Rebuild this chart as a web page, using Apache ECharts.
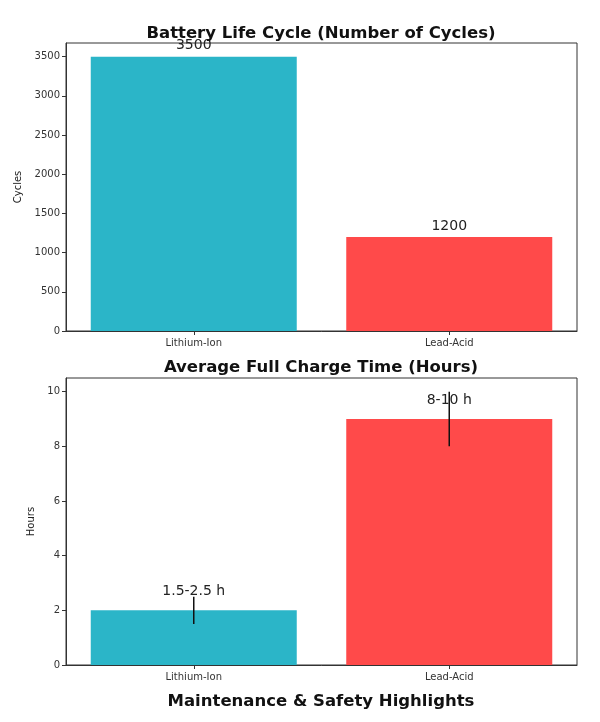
<!DOCTYPE html>
<html>
<head>
<meta charset="utf-8">
<script src="https://cdn.jsdelivr.net/npm/echarts@6/dist/echarts.min.js"></script>
<style>
  html, body { margin: 0; padding: 0; background: #fff; }
  #main { width: 600px; height: 722px; }
</style>
</head>
<body>
<div id="main"></div>
<script>
const batteries = ['Lithium-Ion', 'Lead-Acid']
const cycles = [3500, 1200]
const chargeHours = [2, 9]
const chargeLow = [1.5, 8]
const chargeHigh = [2.5, 10]
const chargeLabels = ['1.5-2.5 h', '8-10 h']
const cycleTicks = [0, 500, 1000, 1500, 2000, 2500, 3000, 3500]
const hourTicks = [0, 2, 4, 6, 8, 10]

const colors = ['#2bb5c8', '#ff4a4a']
const font = 'DejaVu Sans'

const chart = echarts.init(document.getElementById('main'))

// value axis shared styling, ticks only where the reference has them
const valueAxis = (gridIndex, name, max, ticks, gap) => ({
    type: 'value',
    gridIndex,
    min: 0,
    max,
    name,
    nameLocation: 'middle',
    nameGap: gap,
    nameTextStyle: { fontFamily: font, fontSize: 10, color: '#222' },
    splitLine: { show: false },
    axisLine: { show: true, lineStyle: { color: '#333' } },
    axisTick: { show: true, length: 4, customValues: ticks, lineStyle: { color: '#333' } },
    axisLabel: {
        fontFamily: font, fontSize: 10, color: '#333', margin: 6,
        customValues: ticks,
        formatter: v => String(v)
    }
})

const catAxis = gridIndex => ({
    type: 'category',
    gridIndex,
    data: batteries,
    axisLine: { show: true, lineStyle: { color: '#333' } },
    axisTick: { show: true, alignWithLabel: true, length: 4, lineStyle: { color: '#333' } },
    axisLabel: { fontFamily: font, fontSize: 10, color: '#333', margin: 7 }
})

const errorBars = {
    type: 'custom',
    xAxisIndex: 1,
    yAxisIndex: 1,
    z: 10,
    data: batteries.map((b, i) => [i, chargeLow[i], chargeHigh[i]]),
    renderItem: (params, api) => {
        const lo = api.coord([api.value(0), api.value(1)])
        const hi = api.coord([api.value(0), api.value(2)])
        return {
            type: 'line',
            shape: { x1: lo[0], y1: lo[1], x2: hi[0], y2: hi[1] },
            style: { stroke: '#111', lineWidth: 1.5 }
        }
    }
}

const titleStyle = { fontFamily: font, fontSize: 16.5, fontWeight: 'bold', color: '#111' }

chart.setOption({
    animation: false,
    title: [
        { text: 'Battery Life Cycle (Number of Cycles)', left: 316, top: 20, textAlign: 'center', textStyle: titleStyle },
        { text: 'Average Full Charge Time (Hours)', left: 316, top: 354, textAlign: 'center', textStyle: titleStyle },
        { text: 'Maintenance & Safety Highlights', left: 316, top: 688, textAlign: 'center', textStyle: titleStyle }
    ],
    grid: [
        { left: 66, top: 43, width: 511, height: 288, show: true, borderColor: '#333', borderWidth: 1 },
        { left: 66, top: 378, width: 511, height: 287, show: true, borderColor: '#333', borderWidth: 1 }
    ],
    xAxis: [catAxis(0), catAxis(1)],
    yAxis: [valueAxis(0, 'Cycles', 3675, cycleTicks, 35), valueAxis(1, 'Hours', 10.5, hourTicks, 26)],
    series: [
        {
            type: 'bar',
            xAxisIndex: 0,
            yAxisIndex: 0,
            barWidth: 206,
            data: cycles.map((v, i) => ({ value: v, itemStyle: { color: colors[i] } })),
            label: {
                show: true, position: 'top', distance: 4,
                fontFamily: font, fontSize: 14, color: '#222'
            }
        },
        {
            type: 'bar',
            xAxisIndex: 1,
            yAxisIndex: 1,
            barWidth: 206,
            data: chargeHours.map((v, i) => ({ value: v, itemStyle: { color: colors[i] } })),
            label: {
                show: true, position: 'top', distance: 12,
                fontFamily: font, fontSize: 14, color: '#222',
                formatter: p => chargeLabels[p.dataIndex]
            }
        },
        errorBars
    ]
})
</script>
</body>
</html>
